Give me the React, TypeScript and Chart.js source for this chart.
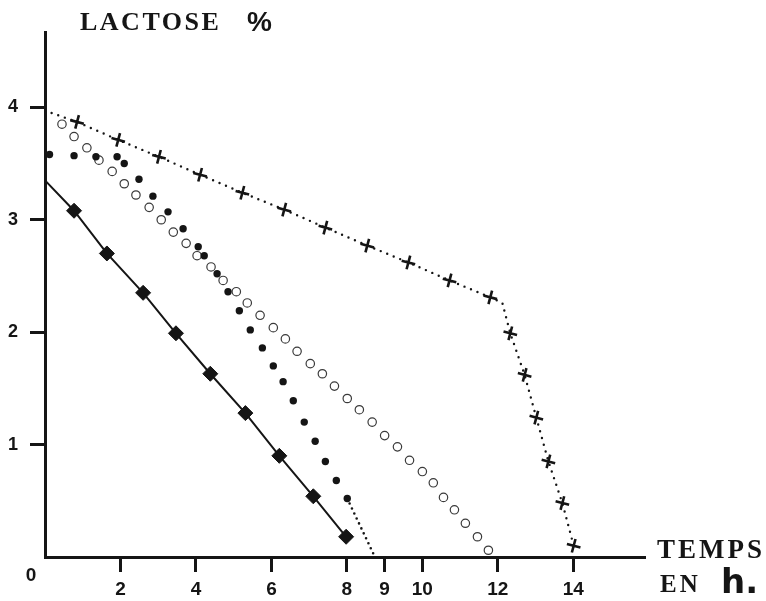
import React, { useEffect, useRef } from "react";
import { Chart, registerables } from "chart.js";

Chart.register(...registerables);

// Tick values
const xTickValues = [2, 4, 6, 8, 9, 10, 12, 14];
const yTickValues = [1, 2, 3, 4];

// Series 1: filled diamonds, solid line (first point is the line start on the axis)
const diamondX = [0, 0.77, 1.64, 2.6, 3.47, 4.38, 5.31, 6.21, 7.11, 7.98];
const diamondY = [3.35, 3.08, 2.7, 2.35, 1.99, 1.63, 1.28, 0.9, 0.54, 0.18];

// Series 2: filled dots
const filledX = [0.12, 0.77, 1.35, 1.91, 2.1, 2.49, 2.86, 3.26, 3.66, 4.06, 4.22, 4.56, 4.85, 5.15, 5.44, 5.76, 6.05, 6.31, 6.58, 6.87, 7.16, 7.43, 7.72, 8.01];
const filledY = [3.58, 3.57, 3.56, 3.56, 3.5, 3.36, 3.21, 3.07, 2.92, 2.76, 2.68, 2.52, 2.36, 2.19, 2.02, 1.86, 1.7, 1.56, 1.39, 1.2, 1.03, 0.85, 0.68, 0.52];
// dotted extension of series 2
const filledTailX = [8.01, 8.7];
const filledTailY = [0.52, 0.03];

// Series 3: open circles
const openX = [0.45, 0.77, 1.11, 1.43, 1.78, 2.1, 2.41, 2.76, 3.08, 3.4, 3.74, 4.03, 4.4, 4.72, 5.07, 5.36, 5.7, 6.05, 6.37, 6.68, 7.03, 7.35, 7.67, 8.01, 8.33, 8.67, 9.0, 9.34, 9.66, 10.0, 10.29, 10.56, 10.85, 11.14, 11.46, 11.75];
const openY = [3.85, 3.74, 3.64, 3.53, 3.43, 3.32, 3.22, 3.11, 3.0, 2.89, 2.79, 2.68, 2.58, 2.46, 2.36, 2.26, 2.15, 2.04, 1.94, 1.83, 1.72, 1.63, 1.52, 1.41, 1.31, 1.2, 1.08, 0.98, 0.86, 0.76, 0.66, 0.53, 0.42, 0.3, 0.18, 0.06];

// Series 4: crosses on a dotted line (index 0 = line start, index 12 = bend, both unmarked)
const crossX = [0, 0.85, 1.94, 3.02, 4.11, 5.23, 6.34, 7.43, 8.54, 9.63, 10.72, 11.8, 12.12, 12.33, 12.71, 13.02, 13.34, 13.71, 14.01];
const crossY = [3.97, 3.87, 3.71, 3.56, 3.4, 3.24, 3.09, 2.93, 2.77, 2.62, 2.46, 2.31, 2.26, 1.99, 1.62, 1.24, 0.85, 0.48, 0.1];
const crossUnmarked = [0, 12];

const toPts = (xs: number[], ys: number[]) => xs.map((x, i) => ({ x, y: ys[i] }));

const INK = "#151515";

const textPlugin = {
  id: "annotTexts",
  afterDraw(chart: any) {
    const ctx = chart.ctx as CanvasRenderingContext2D;
    ctx.save();
    ctx.fillStyle = INK;
    ctx.textBaseline = "alphabetic";
    ctx.textAlign = "left";
    // title
    (ctx as any).letterSpacing = "2.5px";
    ctx.font = "bold 26px 'Liberation Serif'";
    ctx.fillText("LACTOSE", 80, 30);
    (ctx as any).letterSpacing = "0px";
    ctx.font = "bold 28px 'Liberation Sans'";
    ctx.fillText("%", 247, 31);
    // x axis label
    (ctx as any).letterSpacing = "3px";
    ctx.font = "bold 27px 'Liberation Serif'";
    ctx.fillText("TEMPS", 657, 558);
    ctx.font = "bold 25px 'Liberation Serif'";
    ctx.fillText("EN", 660, 592);
    (ctx as any).letterSpacing = "0px";
    ctx.font = "bold 34px 'DejaVu Sans'";
    ctx.fillText("h.", 721, 593);
    // origin
    ctx.font = "bold 19px 'Liberation Sans'";
    ctx.textAlign = "center";
    ctx.textBaseline = "middle";
    ctx.fillText("0", 31, 576);
    ctx.restore();
  },
};

export default function App() {
  const ref = useRef<HTMLCanvasElement | null>(null);

  useEffect(() => {
    if (!ref.current) return;
    const chart = new Chart(ref.current, {
      type: "line",
      data: {
        datasets: [
          {
            label: "diamonds",
            data: toPts(diamondX, diamondY),
            borderColor: INK,
            borderWidth: 2,
            pointStyle: "rectRot",
            pointRadius: (c: any) => (c.dataIndex === 0 ? 0 : 7.5),
            pointBackgroundColor: INK,
            pointBorderColor: INK,
            pointBorderWidth: 1,
            tension: 0,
          },
          {
            label: "filled tail",
            data: toPts(filledTailX, filledTailY),
            borderColor: INK,
            borderWidth: 2.6,
            borderDash: [0, 5.5],
            borderCapStyle: "round",
            pointRadius: 0,
          },
          {
            label: "filled",
            data: toPts(filledX, filledY),
            showLine: false,
            pointStyle: "circle",
            pointRadius: 3.7,
            pointBackgroundColor: INK,
            pointBorderColor: INK,
            pointBorderWidth: 0,
          },
          {
            label: "open",
            data: toPts(openX, openY),
            showLine: false,
            pointStyle: "circle",
            pointRadius: 4.2,
            pointBackgroundColor: "#ffffff",
            pointBorderColor: "#3a3a3a",
            pointBorderWidth: 1.2,
          },
          {
            label: "crosses",
            data: toPts(crossX, crossY),
            borderColor: INK,
            borderWidth: 2.4,
            borderDash: [0, 7],
            borderCapStyle: "round",
            pointStyle: "cross",
            pointRotation: 15,
            pointRadius: (c: any) => (crossUnmarked.includes(c.dataIndex) ? 0 : 7),
            pointBorderColor: INK,
            pointBorderWidth: 2.6,
            tension: 0,
          },
        ],
      },
      options: {
        responsive: false,
        animation: false,
        events: [],
        layout: { padding: { left: 0, top: 32, right: 121, bottom: 0 } },
        plugins: {
          legend: { display: false },
          tooltip: { enabled: false },
          title: { display: false },
        },
        scales: {
          x: {
            type: "linear",
            min: 0,
            max: 15.9,
            afterBuildTicks: (s: any) => {
              s.ticks = xTickValues.map((v) => ({ value: v }));
            },
            afterFit: (s: any) => {
              s.height = 44;
            },
            ticks: {
              autoSkip: false,
              maxRotation: 0,
              padding: 6,
              color: INK,
              font: { family: "'Liberation Sans'", size: 19, weight: "bold" },
              callback: (v: any) => String(v),
            },
            grid: {
              drawOnChartArea: false,
              drawTicks: true,
              tickLength: 15,
              tickWidth: 3,
              tickColor: INK,
            },
            border: { display: true, color: INK, width: 3 },
          },
          y: {
            type: "linear",
            min: 0,
            max: 4.67,
            afterBuildTicks: (s: any) => {
              s.ticks = yTickValues.map((v) => ({ value: v }));
            },
            afterFit: (s: any) => {
              s.width = 45;
            },
            ticks: {
              autoSkip: false,
              padding: 12,
              color: INK,
              font: { family: "'Liberation Sans'", size: 18, weight: "bold" },
              callback: (v: any) => String(v),
            },
            grid: {
              drawOnChartArea: false,
              drawTicks: true,
              tickLength: 15,
              tickWidth: 3,
              tickColor: INK,
            },
            border: { display: true, color: INK, width: 3 },
          },
        },
      } as any,
      plugins: [textPlugin],
    });
    return () => chart.destroy();
  }, []);

  return (
    <div style={{ position: "absolute", left: 0, top: 0, width: 766, height: 601, background: "#fff" }}>
      <canvas ref={ref} width={766} height={601} style={{ width: 766, height: 601, display: "block" }} />
    </div>
  );
}
